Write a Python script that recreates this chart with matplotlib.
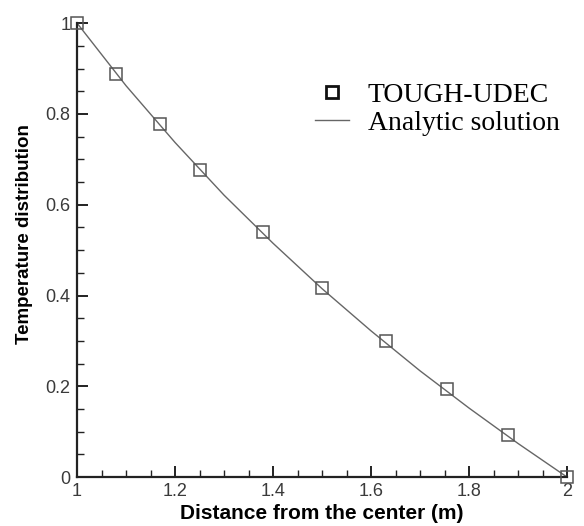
import matplotlib.pyplot as plt
from matplotlib.ticker import MultipleLocator, FormatStrFormatter

# simulated temperatures (TOUGH-UDEC)
sim_r = [1.0, 1.08, 1.17, 1.25, 1.38, 1.5, 1.63, 1.755, 1.88, 2.0]
sim_t = [1.0, 0.887, 0.778, 0.676, 0.541, 0.416, 0.299, 0.194, 0.093, 0.0]

# analytic curve
ana_r = [1.0, 1.1, 1.2, 1.3, 1.4, 1.5, 1.6, 1.7, 1.8, 1.9, 2.0]
ana_t = [1.0, 0.862, 0.737, 0.621, 0.515, 0.415, 0.322, 0.234, 0.152, 0.074, 0.0]

fig = plt.figure(figsize=(5.84, 5.26), dpi=100)
ax = fig.add_axes([0.132, 0.093, 0.839, 0.863])

ax.plot(sim_r, sim_t, linestyle='none', marker='s', markersize=9,
        markerfacecolor='none', markeredgecolor='#555555', markeredgewidth=1.1,
        label='TOUGH-UDEC', clip_on=False, zorder=3)
ax.plot(ana_r, ana_t, color='#666666', linewidth=1.0, label='Analytic solution',
        clip_on=False)

ax.set_xlim(1, 2)
ax.set_ylim(0, 1)
ax.spines['top'].set_visible(False)
ax.spines['right'].set_visible(False)
for s in ('left', 'bottom'):
    ax.spines[s].set_linewidth(1.6)
    ax.spines[s].set_color('#222222')

ax.xaxis.set_major_locator(MultipleLocator(0.2))
ax.xaxis.set_minor_locator(MultipleLocator(0.05))
ax.yaxis.set_major_locator(MultipleLocator(0.2))
ax.yaxis.set_minor_locator(MultipleLocator(0.05))
ax.xaxis.set_major_formatter(FormatStrFormatter('%g'))
ax.yaxis.set_major_formatter(FormatStrFormatter('%g'))
ax.tick_params(which='both', direction='in', color='#222222', labelcolor='#3a3a3a',
               labelsize=13)
ax.tick_params(which='major', length=8, width=1.4)
ax.tick_params(which='minor', length=5, width=1.0)
ax.tick_params(axis='x', pad=4)
ax.tick_params(axis='y', pad=5)
for lab in ax.get_xticklabels() + ax.get_yticklabels():
    lab.set_family('Liberation Sans')

ax.set_xlabel('Distance from the center (m)', fontsize=15, fontweight='bold',
              family='Liberation Sans', labelpad=3)
ax.set_ylabel('Temperature distribution', fontsize=13.5, fontweight='bold',
              family='Liberation Sans')
ax.yaxis.set_label_coords(-0.09, 0.535)

leg = ax.legend(loc='upper left', bbox_to_anchor=(0.486, 0.87), frameon=False,
                prop={'family': 'Liberation Serif', 'size': 20},
                handlelength=1.2, handletextpad=0.7, labelspacing=0.1,
                borderpad=0, borderaxespad=0)
leg.legend_handles[0].set_markersize(8)
leg.legend_handles[0].set_markeredgewidth(2.0)
leg.legend_handles[0].set_markeredgecolor('#111111')

fig.savefig('out.png', dpi=100)
